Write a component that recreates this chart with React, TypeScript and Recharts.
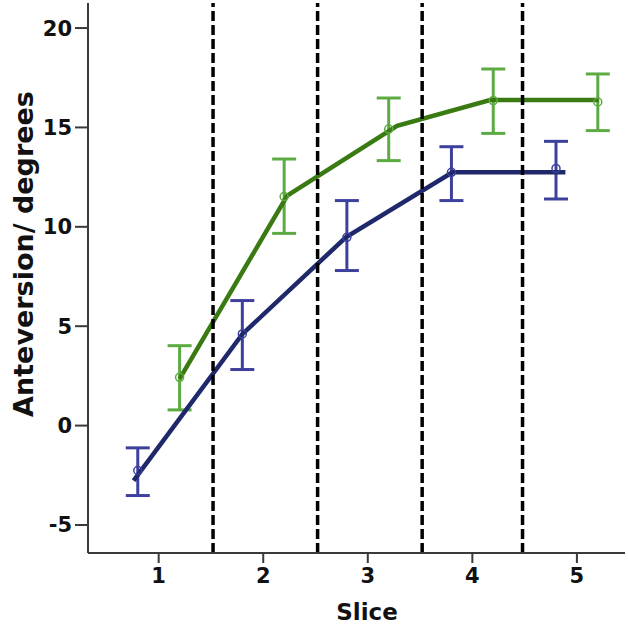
import React from 'react';
import { ComposedChart, Line, Scatter, XAxis, YAxis, ReferenceLine, ErrorBar, Label } from 'recharts';

const blueX = [0.8, 1.8, 2.8, 3.8, 4.8];
const blueMean = [-2.26, 4.61, 9.47, 12.74, 12.94];
const blueUpper = [-1.12, 6.29, 11.32, 14.03, 14.3];
const blueLower = [-3.52, 2.82, 7.8, 11.32, 11.4];

const greenX = [1.2, 2.2, 3.2, 4.2, 5.2];
const greenMean = [2.43, 11.52, 14.92, 16.35, 16.28];
const greenUpper = [4.02, 13.41, 16.48, 17.94, 17.69];
const greenLower = [0.79, 9.67, 13.33, 14.7, 14.84];

const blueLineX = [0.76, 1.8, 2.79, 3.81, 4.89];
const blueLineY = [-2.77, 4.6, 9.47, 12.74, 12.74];
const greenLineX = [1.2, 2.23, 3.28, 4.17, 5.21];
const greenLineY = [2.35, 11.57, 15.08, 16.38, 16.38];

const dividers = [1.52, 2.52, 3.52, 4.48];
const xTicks = [1, 2, 3, 4, 5];
const yTicks = [-5, 0, 5, 10, 15, 20];

const FONT = '"DejaVu Sans", Verdana, sans-serif';
const BLUE_BAR = '#3d409c';
const BLUE_LINE = '#1e286b';
const GREEN_BAR = '#5cab42';
const GREEN_LINE = '#3a7a12';
const AXIS = '#3a3a3a';

const makePoints = (xs: number[], ms: number[], up: number[], lo: number[]) =>
  xs.map((x, i) => ({ x, y: ms[i], err: [ms[i] - lo[i], up[i] - ms[i]] }));

const blueData = makePoints(blueX, blueMean, blueUpper, blueLower);
const greenData = makePoints(greenX, greenMean, greenUpper, greenLower);
const blueLine = blueLineX.map((x, i) => ({ x, y: blueLineY[i] }));
const greenLine = greenLineX.map((x, i) => ({ x, y: greenLineY[i] }));

const circle = (color: string) => (props: any) => (
  <circle cx={props.cx} cy={props.cy} r={4} fill="none" stroke={color} strokeWidth={1.5} />
);

export default function App() {
  return (
    <div style={{ position: 'absolute', left: 0, top: 0, width: 628, height: 625, background: '#fff' }}>
      <ComposedChart width={628} height={625} margin={{ top: 3, right: 3, left: 0, bottom: 0 }}>
        <XAxis
          type="number"
          dataKey="x"
          domain={[0.324, 5.46]}
          allowDataOverflow
          ticks={xTicks}
          height={72}
          tickSize={10}
          tickMargin={5}
          axisLine={{ stroke: AXIS, strokeWidth: 2 }}
          tickLine={{ stroke: AXIS, strokeWidth: 2 }}
          tick={{ fontFamily: FONT, fontWeight: 'bold', fontSize: 21, fill: '#111' }}
        >
          <Label
            content={() => (
              <text x={367} y={620} textAnchor="middle" fontFamily={FONT} fontWeight="bold" fontSize={23} fill="#111">
                Slice
              </text>
            )}
          />
        </XAxis>
        <YAxis
          type="number"
          dataKey="y"
          domain={[-6.41, 21.26]}
          allowDataOverflow
          ticks={yTicks}
          width={88}
          tickSize={13}
          tickMargin={3}
          axisLine={{ stroke: AXIS, strokeWidth: 2 }}
          tickLine={{ stroke: AXIS, strokeWidth: 2 }}
          tick={{ fontFamily: FONT, fontWeight: 'bold', fontSize: 21, fill: '#111' }}
        >
          <Label
            content={() => (
              <text
                x={23}
                y={254}
                transform="rotate(-90 23 254)"
                textAnchor="middle"
                dominantBaseline="central"
                fontFamily={FONT}
                fontWeight="bold"
                fontSize={27}
                fill="#111"
              >
                Anteversion/ degrees
              </text>
            )}
          />
        </YAxis>
        <Scatter data={greenData} dataKey="y" isAnimationActive={false} shape={circle(GREEN_BAR)}>
          <ErrorBar dataKey="err" direction="y" width={12} stroke={GREEN_BAR} strokeWidth={3} />
        </Scatter>
        <Scatter data={blueData} dataKey="y" isAnimationActive={false} shape={circle(BLUE_BAR)}>
          <ErrorBar dataKey="err" direction="y" width={12} stroke={BLUE_BAR} strokeWidth={3} />
        </Scatter>
        <Line data={greenLine} dataKey="y" type="linear" stroke={GREEN_LINE} strokeWidth={4.5} dot={false} activeDot={false} isAnimationActive={false} />
        <Line data={blueLine} dataKey="y" type="linear" stroke={BLUE_LINE} strokeWidth={4.5} dot={false} activeDot={false} isAnimationActive={false} />
        {dividers.map((d) => (
          <ReferenceLine key={d} x={d} stroke="#000" strokeWidth={3.5} strokeDasharray="10 4" />
        ))}
      </ComposedChart>
    </div>
  );
}
